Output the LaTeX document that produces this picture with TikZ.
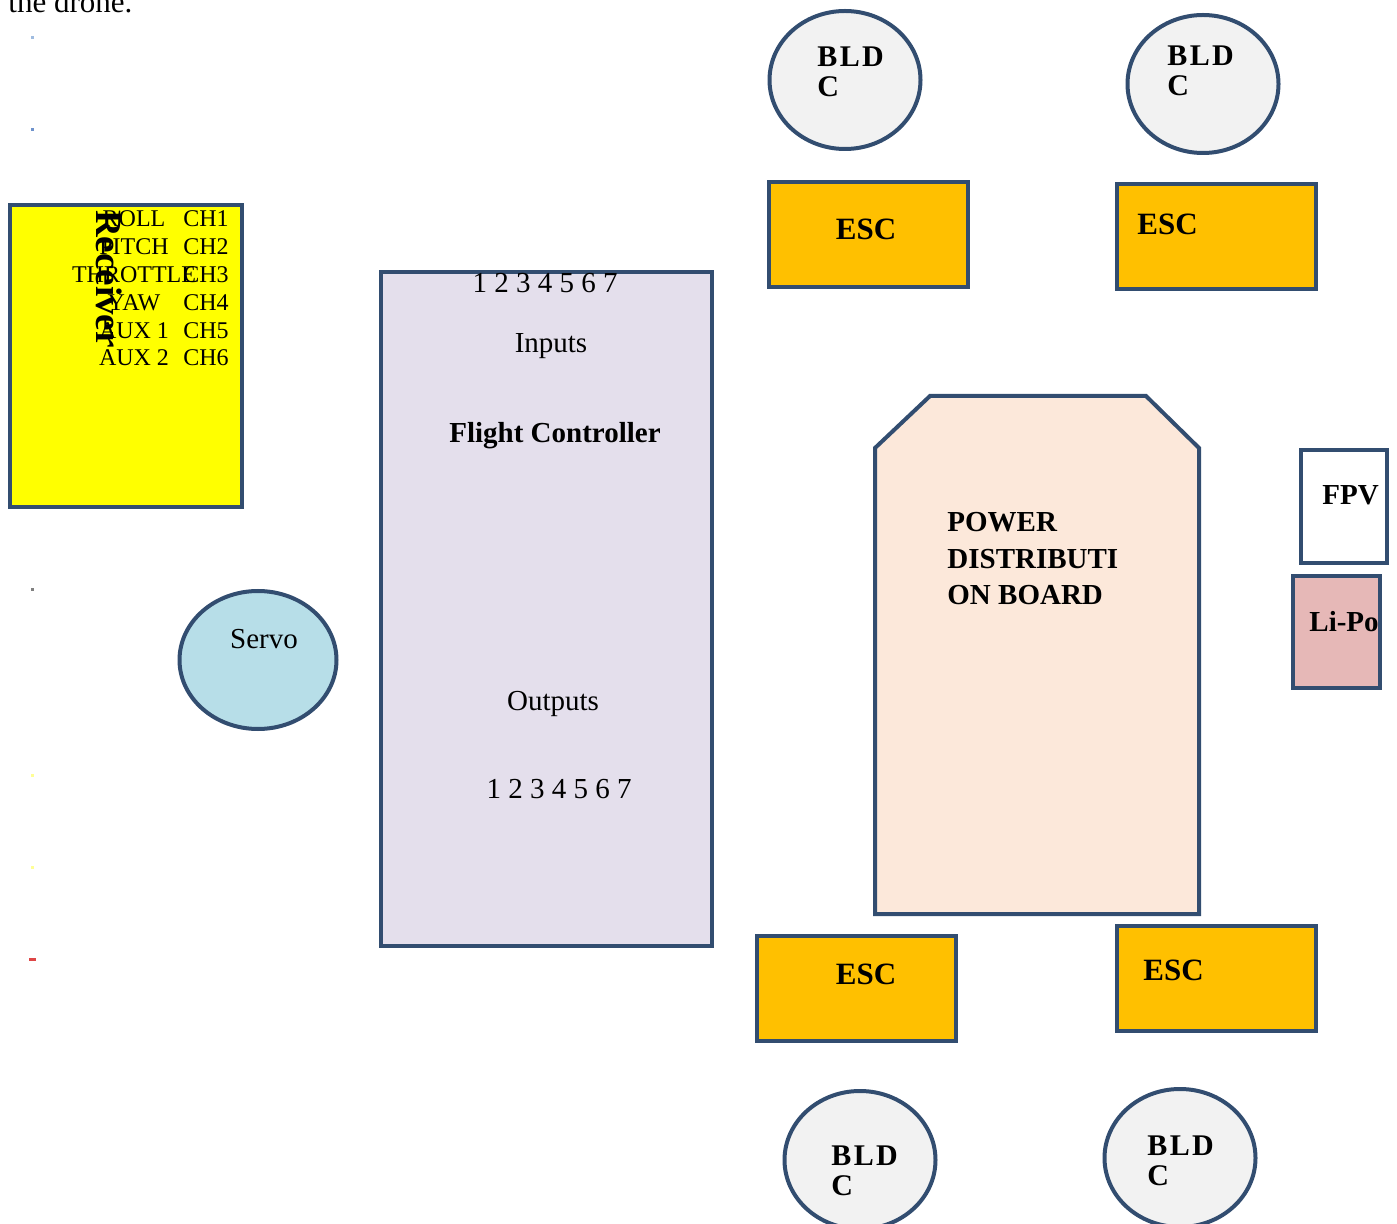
\documentclass[tikz,border=0pt]{standalone}
\usepackage{fontspec}
\setmainfont{Liberation Serif}
\newfontfamily\bldfont{Liberation Serif}[LetterSpace=8]
\usepackage{xcolor}
\usepackage{tikz}
\usetikzlibrary{shapes.geometric}
\definecolor{edgeclr}{RGB}{50,77,112}
\definecolor{rxclr}{RGB}{255,255,0}
\definecolor{fcclr}{RGB}{228,223,236}
\definecolor{escclr}{RGB}{255,192,0}
\definecolor{motorclr}{RGB}{242,242,242}
\definecolor{servoclr}{RGB}{183,222,232}
\definecolor{pdbclr}{RGB}{252,232,218}
\definecolor{lipoclr}{RGB}{230,184,183}
\definecolor{dotA}{RGB}{160,188,224}
\definecolor{dotB}{RGB}{110,146,204}
\definecolor{dotC}{RGB}{128,128,128}
\definecolor{dotD}{RGB}{255,255,150}
\definecolor{dotE}{RGB}{222,70,70}
\tikzset{
  part/.style={rectangle,draw=edgeclr,line width=2pt,inner sep=0pt},
  rxbox/.style={part,fill=rxclr,minimum width=116pt,minimum height=151pt},
  fcbox/.style={part,fill=fcclr,minimum width=165.5pt,minimum height=337pt},
  escbox/.style={part,fill=escclr,minimum width=99.5pt,minimum height=52.5pt},
  fpvbox/.style={part,fill=white,minimum width=43pt,minimum height=56.5pt},
  lipobox/.style={part,fill=lipoclr,minimum width=43.5pt,minimum height=56pt},
  motor/.style={ellipse,draw=edgeclr,line width=2pt,fill=motorclr,
                minimum width=75.5pt,minimum height=69pt,inner sep=0pt},
  servo/.style={motor,fill=servoclr,minimum width=78.5pt},
  txt/.style={inner sep=0pt,font=\fontsize{14.5}{17}\selectfont},
  txtb/.style={txt,align=left,font=\fontsize{14.5}{18.25}\selectfont\bfseries},
  esctxt/.style={txt,font=\fontsize{15.5}{18}\selectfont\bfseries},
  chtxt/.style={txt,font=\fontsize{12}{14}\selectfont},
  bldtxt/.style={txt,align=left,font=\fontsize{15}{15.25}\selectfont\bldfont\bfseries},
}

\begin{document}
\begin{tikzpicture}[x=0.5pt, y=-0.5pt]
\useasboundingbox (0,0) rectangle (1397,1224);

% ── caption line cut at the top
\node[txt,font=\fontsize{15.5}{18}\selectfont,anchor=base west] (cap) at (8,13) {the drone.};

% ── stray marks in the left margin
\foreach \yy/\cc in {38/dotA,130/dotB,222/dotA,406/dotA,590/dotC,775/dotD,867/dotD}
  \fill[\cc] (30.5,\yy-1.5) rectangle ++(3,3);
\fill[dotE] (29,957.5) rectangle ++(7,3);

% ── receiver
\node[rxbox] (rx) at (126,356) {};
\foreach \nm/\ch [count=\i] in {ROLL/CH1,PITCH/CH2,THROTTLE/CH3,YAW/CH4,AUX 1/CH5,AUX 2/CH6}{
  \node[chtxt,anchor=base] (rxl\i) at (134,{227+27.8*(\i-1)}) {\nm};
  \node[chtxt,anchor=base west] (rxc\i) at (183,{227+27.8*(\i-1)}) {\ch};
}
\node[txt,font=\fontsize{18.5}{20}\selectfont\bfseries,rotate=-90] (rxname) at (109,279) {Receiver};

% ── servo
\node[servo] (sv) at (258,660) {};
\node[txt,anchor=base] (svname) at (264,648) {Servo};

% ── flight controller
\node[fcbox] (fc) at (546.5,609) {};
\node[txt,anchor=base] (fcin) at (545,293) {1 2 3 4 5 6 7};
\node[txt,anchor=base] (fcinl) at (551,353) {Inputs};
\node[txt,font=\fontsize{14.5}{17}\selectfont\bfseries,anchor=base] (fcname) at (555,443) {Flight Controller};
\node[txt,anchor=base] (fcoutl) at (553,710) {Outputs};
\node[txt,anchor=base] (fcout) at (559,798) {1 2 3 4 5 6 7};

% ── power distribution board
\draw[edgeclr,line width=2pt,fill=pdbclr] (875,914) -- (875,448) -- (930,396)
  -- (1146,396) -- (1199,448) -- (1199,914) -- cycle;
\node[txtb,anchor=north west] (pdb) at (947,512) {POWER\\DISTRIBUTI\\ON BOARD};

% ── FPV and battery
\node[fpvbox] (fpv) at (1344,506.5) {};
\node[txt,font=\fontsize{14.5}{17}\selectfont\bfseries,anchor=base west] (fpvname) at (1322,505) {FPV};
\node[lipobox] (lipo) at (1336.5,632) {};
\node[txt,font=\fontsize{14.5}{17}\selectfont\bfseries,anchor=base west] (liponame) at (1309,632) {Li-Po};

% ── ESCs
\node[escbox] (esc1) at (868.5,234.5) {};
\node[esctxt,anchor=base] (escl1) at (866,240) {ESC};
\node[escbox] (esc2) at (1216.5,236.5) {};
\node[esctxt,anchor=base west] (escl2) at (1137,235) {ESC};
\node[escbox] (esc3) at (856.5,988) {};
\node[esctxt,anchor=base] (escl3) at (866,984) {ESC};
\node[escbox] (esc4) at (1216.5,978) {};
\node[esctxt,anchor=base west] (escl4) at (1143,980) {ESC};

% ── motors
\node[motor] (m1) at (845,80) {};
\node[bldtxt,anchor=north west] (ml1) at (817,46) {BLD\\C};
\node[motor] (m2) at (1203,84) {};
\node[bldtxt,anchor=north west] (ml2) at (1167,45) {BLD\\C};
\node[motor] (m3) at (860,1160) {};
\node[bldtxt,anchor=north west] (ml3) at (831,1145) {BLD\\C};
\node[motor] (m4) at (1180,1158) {};
\node[bldtxt,anchor=north west] (ml4) at (1147,1135) {BLD\\C};

\end{tikzpicture}
\end{document}
